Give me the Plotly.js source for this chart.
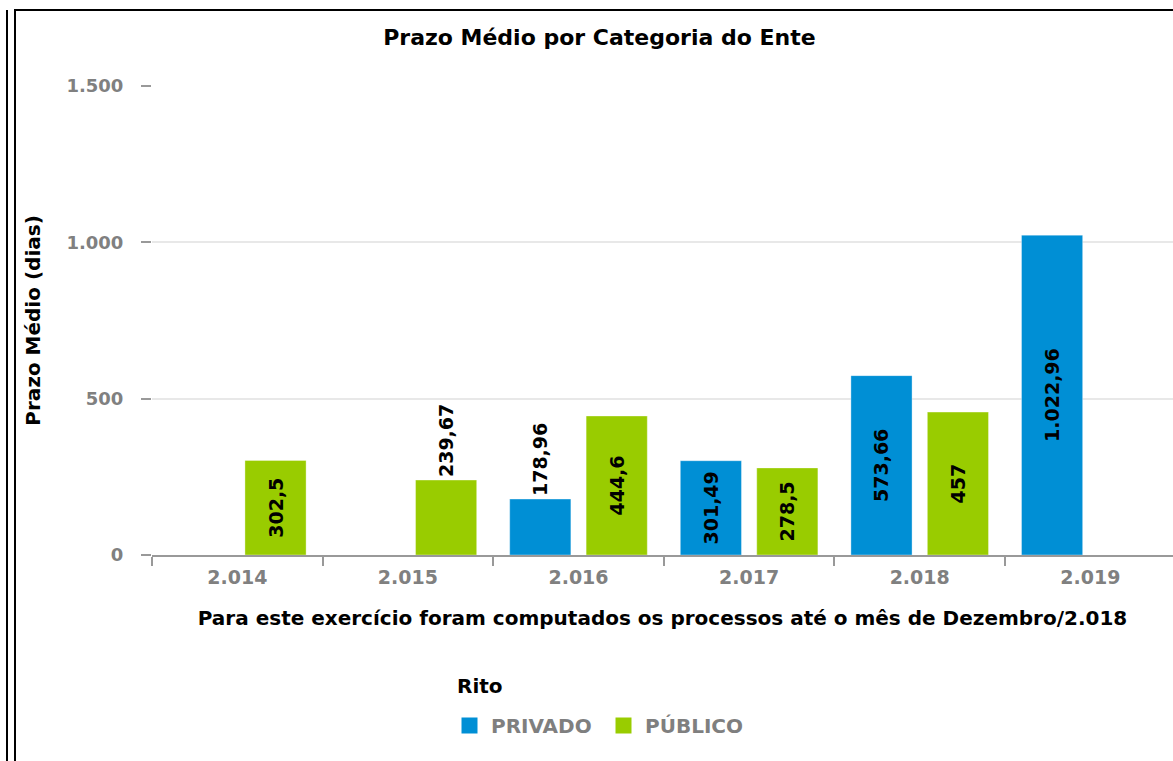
<!DOCTYPE html>
<html>
<head>
<meta charset="utf-8">
<script src="https://cdn.plot.ly/plotly-3.0.1.min.js"></script>
<style>
  html, body { margin: 0; padding: 0; background: #fff; overflow: hidden; }
  #chart { width: 1173px; height: 761px; }
  .frame-outer { position: absolute; left: 6px; top: 10px; width: 2px; height: 751px; background: #000; }
  .frame-inner { position: absolute; left: 14px; top: 9px; width: 1159px; height: 752px; border-left: 2px solid #000; border-top: 2px solid #000; box-sizing: border-box; }
</style>
</head>
<body>
<div id="chart"></div>
<div class="frame-outer"></div>
<div class="frame-inner"></div>
<script>
const categories = ['2.014', '2.015', '2.016', '2.017', '2.018', '2.019'];
const privado = [null, null, 178.96, 301.49, 573.66, 1022.96];
const publico = [302.5, 239.67, 444.6, 278.5, 457, null];
const seriesNames = ['PRIVADO', 'PÚBLICO'];
const legendTitle = 'Rito';
const yTicks = [0, 500, 1000, 1500];

const FONT = 'DejaVu Sans';
const colors = ['#008fd5', '#99cc00'];
const Y_MAX = 1500;
const PLOT_H = 469; // px height of plot area
// a label goes outside the bar when the bar is too short to hold it
function positions(vals) {
  return vals.map(v => (v !== null && v * PLOT_H / Y_MAX < 80) ? 'outside' : 'inside');
}

const labelFont = {family: FONT, size: 19, color: '#000', weight: 'bold'};

const barCommon = {
  type: 'bar',
  x: categories,
  texttemplate: '%{y:,.2~f}',
  textangle: -90,
  insidetextanchor: 'middle',
  constraintext: 'none',
  textfont: labelFont,
  insidetextfont: labelFont,
  outsidetextfont: labelFont,
  showlegend: false,
  hoverinfo: 'x+y+name',
  cliponaxis: false
};

const traces = [
  Object.assign({}, barCommon, {name: seriesNames[0], y: privado, textposition: positions(privado),
    marker: {color: colors[0], line: {color: 'rgba(255,255,255,0.35)', width: 1}}}),
  Object.assign({}, barCommon, {name: seriesNames[1], y: publico, textposition: positions(publico),
    marker: {color: colors[1], line: {color: 'rgba(255,255,255,0.35)', width: 1}}}),
  {type: 'scatter', mode: 'markers', name: seriesNames[0], x: [null], y: [null],
   marker: {symbol: 'square', size: 16, color: colors[0]}, showlegend: true, hoverinfo: 'skip'},
  {type: 'scatter', mode: 'markers', name: seriesNames[1], x: [null], y: [null],
   marker: {symbol: 'square', size: 16, color: colors[1]}, showlegend: true, hoverinfo: 'skip'}
];

const layout = {
  width: 1173,
  height: 761,
  margin: {l: 152, r: 0, t: 86, b: 206, pad: 0},
  paper_bgcolor: '#fff',
  plot_bgcolor: '#fff',
  separators: ',.',
  font: {family: FONT, color: '#000'},
  barmode: 'group',
  bargap: 0.104,
  bargroupgap: 0.2,
  title: {
    text: 'Prazo Médio por Categoria do Ente',
    font: {family: FONT, size: 22, color: '#000', weight: 'bold'},
    xref: 'container', x: 0.511, xanchor: 'center',
    yref: 'container', y: 1 - 37 / 761, yanchor: 'middle'
  },
  xaxis: {
    type: 'category',
    categoryorder: 'array',
    categoryarray: categories,
    range: [-0.5, -0.5 + (1173 - 152) / 170.6],
    showline: true, linecolor: '#999', linewidth: 2,
    ticks: 'outside', tickson: 'boundaries', ticklen: 9, tickwidth: 2, tickcolor: '#999',
    ticklabelstandoff: 4,
    tickfont: {family: FONT, size: 19, color: '#808080', weight: 'bold'},
    showgrid: false, zeroline: false,
    title: {
      text: 'Para este exercício foram computados os processos até o mês de Dezembro/2.018',
      font: {family: FONT, size: 20, color: '#000', weight: 'bold'},
      standoff: 24
    }
  },
  yaxis: {
    range: [0, Y_MAX],
    tickvals: yTicks,
    separatethousands: true,
    tickformat: ',d',
    showline: false, zeroline: false,
    showgrid: true, gridcolor: '#e8e8e8', gridwidth: 2,
    ticks: 'outside', ticklen: 10, tickwidth: 2, tickcolor: '#999',
    ticklabelstandoff: 14,
    tickfont: {family: FONT, size: 18, color: '#808080', weight: 'bold'},
    title: {
      text: 'Prazo Médio (dias)',
      font: {family: FONT, size: 20, color: '#000', weight: 'bold'},
      standoff: 20
    }
  },
  annotations: [{
    text: legendTitle,
    xref: 'paper', yref: 'paper',
    x: (455 - 152) / 1021, xanchor: 'left',
    y: (555 - 686) / 469, yanchor: 'middle',
    showarrow: false,
    font: {family: FONT, size: 20, color: '#000', weight: 'bold'}
  }],
  legend: {
    orientation: 'h',
    xref: 'container', x: 448 / 1173, xanchor: 'left',
    yref: 'container', y: 1 - 706 / 761, yanchor: 'top',
    itemwidth: 33,
    entrywidth: 106,
    font: {family: FONT, size: 20, color: '#7f7f7f', weight: 'bold'},
    bgcolor: 'rgba(0,0,0,0)'
  },
  showlegend: true
};

Plotly.newPlot('chart', traces, layout, {displayModeBar: false, staticPlot: true});
</script>
</body>
</html>
